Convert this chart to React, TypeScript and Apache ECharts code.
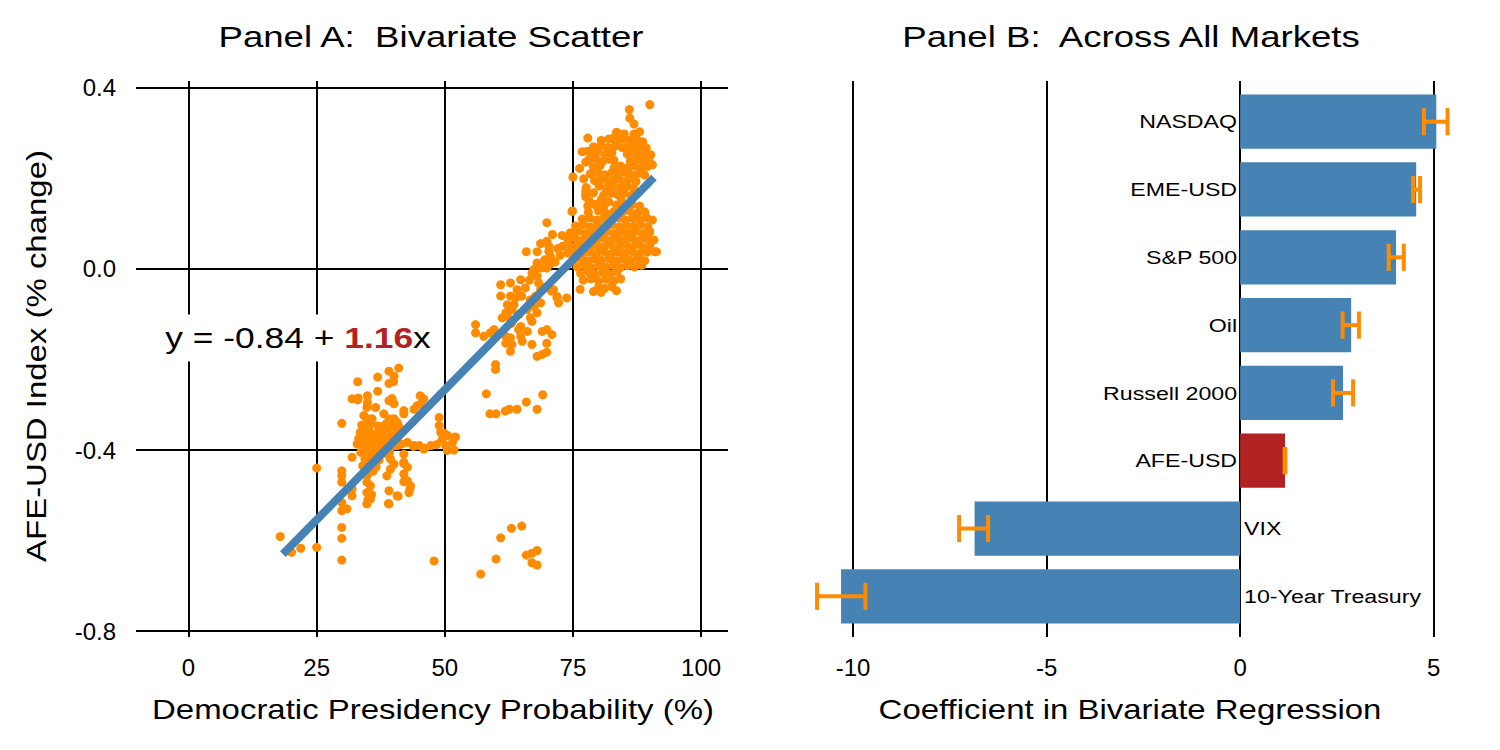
import React, { useEffect, useRef } from 'react';
import * as echarts from 'echarts';

const FONT = 'Liberation Sans';
const STRETCH = 1.22;

// Panel A axes
const X_TICKS = [0, 25, 50, 75, 100];
const Y_TICKS = [-0.8, -0.4, 0, 0.4];

// Fitted line endpoints
const FIT_X = [18.4, 90.8];
const FIT_Y = [-0.63, 0.202];

// Panel B
const COEF_TICKS = [-10, -5, 0, 5];
const MARKETS = ['NASDAQ', 'EME-USD', 'S&P 500', 'Oil', 'Russell 2000', 'AFE-USD', 'VIX', '10-Year Treasury'];
const COEF = [5.07, 4.55, 4.03, 2.87, 2.66, 1.16, -6.86, -10.31];
const CI_LO = [4.75, 4.47, 3.84, 2.65, 2.4, 1.15, -7.26, -10.93];
const CI_HI = [5.36, 4.65, 4.23, 3.07, 2.92, 1.17, -6.51, -9.68];
const HIGHLIGHT = 'AFE-USD';

// Scatter points (probability %, AFE-USD % change)
const CLUSTER_HIGH: number[][] = [
  [90.0, 0.363], [86.0, 0.352], [86.1, 0.333], [86.9, 0.32], [84.0, 0.298], [86.9, 0.298], [77.9, 0.289], [82.7, 0.288],
  [76.8, 0.259], [77.8, 0.26], [75.0, 0.203], [77.1, 0.199], [76.3, 0.222], [77.5, 0.236],
  [83.5, 0.302], [85.0, 0.298], [88.0, 0.303],
  [80.5, 0.284], [82.0, 0.287], [83.6, 0.283], [84.8, 0.288], [86.0, 0.284], [87.5, 0.286], [88.6, 0.281],
  [79.0, 0.27], [80.5, 0.273], [81.8, 0.268], [83.2, 0.271], [84.6, 0.268], [85.8, 0.272], [87.0, 0.269], [88.2, 0.272], [89.3, 0.267],
  [78.5, 0.255], [80.0, 0.258], [81.3, 0.253], [82.6, 0.257], [85.6, 0.254], [86.6, 0.258], [87.8, 0.253], [89.0, 0.256], [90.2, 0.252],
  [78.0, 0.24], [79.4, 0.243], [80.8, 0.238], [82.2, 0.242], [83.0, 0.24], [86.2, 0.239], [87.4, 0.243], [88.6, 0.238], [89.8, 0.242],
  [79.0, 0.225], [80.3, 0.228], [83.0, 0.223], [84.3, 0.227], [85.7, 0.224], [87.0, 0.228], [88.2, 0.222], [89.5, 0.226], [90.5, 0.23],
  [78.4, 0.21], [79.8, 0.213], [81.2, 0.208], [82.5, 0.212], [83.8, 0.209], [85.2, 0.213], [86.5, 0.208], [87.8, 0.211], [89.0, 0.207],
  [79.2, 0.195], [80.6, 0.198], [81.9, 0.193], [83.3, 0.197], [84.7, 0.194], [86.0, 0.198], [87.3, 0.193],
  [77.6, 0.18], [80.1, 0.183], [81.5, 0.178], [82.8, 0.182], [84.2, 0.179], [85.5, 0.183], [86.8, 0.178],
  [77.5, 0.165], [79.0, 0.168], [81.0, 0.163], [82.4, 0.167], [83.7, 0.164], [85.0, 0.168], [86.3, 0.162],
  [78.2, 0.15], [80.5, 0.153], [82.0, 0.148], [84.5, 0.152],
  [77.5, 0.171], [77.5, 0.159], [77.9, 0.139], [79.4, 0.143], [80.9, 0.131],
];

const CLUSTER_LOW: number[][] = [
  [79.5, 0.14], [81.0, 0.137], [83.5, 0.141], [85.0, 0.138], [86.5, 0.142], [88.0, 0.139],
  [78.0, 0.125], [80.0, 0.128], [81.5, 0.123], [83.0, 0.127], [84.5, 0.124], [86.0, 0.128], [87.5, 0.123], [89.0, 0.126],
  [76.8, 0.11], [78.2, 0.113], [79.6, 0.108], [81.0, 0.112], [82.4, 0.109], [83.8, 0.113], [85.2, 0.108], [86.6, 0.112], [88.0, 0.109], [89.4, 0.113], [90.5, 0.108],
  [75.5, 0.095], [77.0, 0.098], [78.4, 0.093], [79.8, 0.097], [81.2, 0.094], [82.6, 0.098], [84.0, 0.093], [85.4, 0.097], [86.8, 0.094], [88.2, 0.098], [89.6, 0.093],
  [74.5, 0.08], [76.0, 0.083], [77.4, 0.078], [78.8, 0.082], [80.2, 0.079], [81.6, 0.083], [83.0, 0.078], [84.4, 0.082], [85.8, 0.079], [87.2, 0.083], [88.6, 0.078], [90.0, 0.082],
  [74.0, 0.065], [75.4, 0.068], [76.8, 0.063], [78.2, 0.067], [79.6, 0.064], [81.0, 0.068], [82.4, 0.063], [83.8, 0.067], [85.2, 0.064], [86.6, 0.068], [88.0, 0.063], [89.4, 0.067], [90.8, 0.064],
  [74.6, 0.05], [76.0, 0.053], [77.4, 0.048], [78.8, 0.052], [80.2, 0.049], [81.6, 0.053], [83.0, 0.048], [84.4, 0.052], [85.8, 0.049], [87.2, 0.053], [88.6, 0.048], [90.0, 0.052],
  [74.0, 0.035], [75.4, 0.038], [76.8, 0.033], [78.2, 0.037], [79.6, 0.034], [81.0, 0.038], [82.4, 0.033], [83.8, 0.037], [85.2, 0.034], [86.6, 0.038], [88.0, 0.033], [89.5, 0.037], [91.3, 0.038],
  [75.0, 0.02], [76.4, 0.023], [77.8, 0.018], [79.2, 0.022], [80.6, 0.019], [82.0, 0.023], [83.4, 0.018], [84.8, 0.022], [86.2, 0.019], [87.6, 0.023], [89.0, 0.018],
  [75.8, 0.005], [77.2, 0.008], [78.6, 0.003], [80.0, 0.007], [81.4, 0.004], [82.8, 0.008], [84.2, 0.003], [85.6, 0.007], [87.0, 0.004], [88.4, 0.008],
  [76.5, -0.01], [78.0, -0.007], [79.4, -0.012], [80.8, -0.008], [82.2, -0.011], [83.6, -0.007],
  [77.0, -0.025], [78.5, -0.022], [80.0, -0.027], [81.5, -0.023], [83.0, -0.026], [84.3, -0.022],
  [76.4, -0.045], [80.0, -0.04], [81.2, -0.043], [82.6, -0.039],
  [79.0, -0.05], [80.5, -0.052], [83.5, -0.048],
  [88.0, 0.016], [91.0, 0.038], [74.9, 0.128],
];

const CLUSTER_MID: number[][] = [
  [74.8, 0.127], [69.9, 0.102], [71.0, 0.076], [72.9, 0.074], [68.7, 0.056], [69.9, 0.061], [70.3, 0.05], [70.3, 0.039],
  [70.6, 0.028], [65.9, 0.038], [68.0, 0.038], [68.0, 0.013], [68.7, 0.002], [69.9, 0.002], [67.4, -0.001], [67.0, -0.009],
  [68.0, -0.016], [68.3, -0.031], [68.7, -0.046], [67.7, -0.06], [68.7, -0.075], [60.9, -0.035], [62.8, -0.031], [64.8, -0.024],
  [65.7, -0.042], [64.1, -0.046], [60.9, -0.06], [62.8, -0.06], [63.8, -0.064], [63.5, -0.079], [62.2, -0.079], [63.1, -0.09],
  [66.7, -0.068], [67.4, -0.083], [68.0, -0.097], [71.2, -0.046], [71.9, -0.064], [73.8, -0.064], [72.2, -0.075], [61.2, -0.108],
  [62.2, -0.105], [61.9, -0.097], [64.8, -0.127], [64.4, -0.134], [66.1, -0.138], [66.7, -0.108], [67.0, -0.116], [56.0, -0.123],
  [56.0, -0.141], [57.6, -0.149], [58.9, -0.141], [59.6, -0.134], [61.9, -0.149], [62.8, -0.152], [61.9, -0.164], [63.1, -0.167],
  [62.8, -0.182], [64.8, -0.149], [65.1, -0.16], [69.0, -0.138], [69.9, -0.134], [70.9, -0.145], [69.9, -0.164], [67.0, -0.167],
  [68.0, -0.193], [69.0, -0.189], [69.9, -0.184], [59.9, -0.211], [59.9, -0.222],
  [69.5, 0.02], [70.5, 0.01], [71.5, 0.015], [72.5, 0.03], [73.0, 0.05], [72.0, 0.045], [69.3, -0.041], [70.8, -0.049],
  [71.9, -0.061], [66.5, -0.025], [65.0, -0.06], [66.0, -0.09], [64.5, -0.1], [63.0, -0.12],
  [58.1, -0.276], [58.8, -0.32], [60.0, -0.32], [61.8, -0.314], [62.6, -0.31], [64.1, -0.31], [65.9, -0.294], [68.0, -0.31], [69.1, -0.278],
];

const CLUSTER_LEFT: number[][] = [
  [41.0, -0.219], [39.1, -0.226], [40.1, -0.237], [40.0, -0.249], [36.9, -0.239], [33.0, -0.249], [39.1, -0.253], [36.9, -0.27],
  [31.9, -0.287], [33.0, -0.289], [34.9, -0.28], [34.9, -0.295], [34.8, -0.306], [39.1, -0.291], [39.7, -0.286], [40.1, -0.298],
  [45.9, -0.287], [45.3, -0.298], [44.6, -0.302], [36.5, -0.306], [42.0, -0.313], [42.0, -0.32], [29.9, -0.341], [34.2, -0.324],
  [34.8, -0.331], [35.8, -0.331], [34.2, -0.346], [35.1, -0.354], [38.1, -0.32], [39.1, -0.331], [40.1, -0.331], [40.1, -0.346],
  [38.7, -0.35], [40.7, -0.339], [41.4, -0.354], [48.9, -0.328], [48.9, -0.346], [49.2, -0.361], [49.5, -0.376], [50.2, -0.39],
  [50.5, -0.401], [51.8, -0.372], [51.5, -0.383], [50.5, -0.368], [33.5, -0.361], [34.5, -0.368], [33.5, -0.383], [34.8, -0.376],
  [36.1, -0.368], [37.4, -0.365], [36.5, -0.376], [37.1, -0.383], [39.1, -0.368], [40.1, -0.376], [39.4, -0.387], [40.7, -0.39],
  [42.7, -0.383], [44.0, -0.39], [45.0, -0.39], [45.9, -0.398], [47.3, -0.39], [32.9, -0.387], [31.9, -0.416], [34.8, -0.398],
  [35.5, -0.413], [36.1, -0.405], [34.8, -0.42], [35.5, -0.431], [38.7, -0.409], [39.4, -0.42], [40.1, -0.431], [39.4, -0.442],
  [38.7, -0.457], [42.0, -0.409], [42.0, -0.427], [42.7, -0.438], [42.0, -0.453], [42.7, -0.468], [43.3, -0.479], [43.0, -0.494],
  [29.9, -0.446], [29.9, -0.457], [29.9, -0.471], [25.0, -0.44], [31.9, -0.486], [31.9, -0.501], [34.8, -0.457], [34.8, -0.471],
  [35.5, -0.479], [34.8, -0.494], [35.5, -0.508], [34.8, -0.519], [39.1, -0.49], [39.1, -0.519], [40.7, -0.501], [29.9, -0.516],
  [29.9, -0.534], [30.9, -0.53], [29.9, -0.571], [29.9, -0.595], [29.9, -0.643],
  [33.8, -0.345], [35.5, -0.342], [37.0, -0.347], [38.5, -0.343], [41.0, -0.348], [34.0, -0.36], [35.2, -0.357], [36.8, -0.362],
  [38.0, -0.358], [39.8, -0.361], [41.2, -0.357], [33.2, -0.375], [35.0, -0.372], [36.2, -0.377], [37.8, -0.373], [39.0, -0.376],
  [40.6, -0.372], [34.2, -0.39], [35.8, -0.387], [37.0, -0.392], [38.4, -0.388], [40.0, -0.391], [41.6, -0.387], [33.6, -0.405],
  [35.0, -0.402], [36.4, -0.407], [37.6, -0.403], [39.2, -0.406], [34.4, -0.42], [36.0, -0.417], [37.2, -0.422], [34.0, -0.435],
  [35.2, -0.432], [36.6, -0.437], [34.8, -0.45], [36.0, -0.447],
  [43.9, -0.392], [46.1, -0.396], [48.4, -0.388], [49.9, -0.363], [52.1, -0.371], [51.8, -0.4], [43.2, -0.486], [40.9, -0.502],
  [39.0, -0.518], [35.0, -0.51], [35.7, -0.498], [42.0, -0.43], [42.0, -0.47], [33.1, -0.285], [44.0, -0.31], [45.2, -0.28],
];

const OUTLIERS: number[][] = [
  [17.9, -0.591], [20.1, -0.626], [21.9, -0.617], [25.0, -0.615], [47.9, -0.645], [57.0, -0.674], [60.0, -0.641], [60.9, -0.594],
  [63.0, -0.573], [65.0, -0.568], [65.9, -0.632], [67.0, -0.628], [68.0, -0.622], [67.0, -0.649], [68.0, -0.654],
];

const POINTS = [...CLUSTER_HIGH, ...CLUSTER_LOW, ...CLUSTER_MID, ...CLUSTER_LEFT, ...OUTLIERS];

const gridLine = { color: '#000', width: 2, type: 'solid' as const };

function stretchedText(text: string, x: number, y: number, size: number, extra: any = {}) {
  return {
    type: 'text',
    x,
    y,
    scaleX: STRETCH,
    z: 10,
    ...extra,
    style: {
      text,
      fontSize: size,
      fontFamily: FONT,
      fill: '#000',
      align: 'center',
      verticalAlign: 'middle',
    },
  };
}

export default function App() {
  const ref = useRef<HTMLDivElement>(null);

  useEffect(() => {
    document.body.style.margin = '0';
    const chart = echarts.init(ref.current!, null, { renderer: 'svg' });

    const axisLabelBase = { fontSize: 24, fontFamily: FONT, color: '#000' };

    const option: any = {
      animation: false,
      backgroundColor: '#fff',
      grid: [
        { left: 136, top: 81, width: 592, height: 556 },
        { left: 783, top: 81, width: 699, height: 556 },
      ],
      xAxis: [
        {
          gridIndex: 0, type: 'value', min: -10.25, max: 105.25,
          axisLine: { show: false }, axisTick: { show: false }, splitLine: { show: false },
          axisLabel: { ...axisLabelBase, customValues: X_TICKS, margin: 18 },
        },
        {
          gridIndex: 1, type: 'value', min: -11.81, max: 6.25,
          axisLine: { show: false }, axisTick: { show: false }, splitLine: { show: false },
          axisLabel: { ...axisLabelBase, customValues: COEF_TICKS, margin: 18 },
        },
      ],
      yAxis: [
        {
          gridIndex: 0, type: 'value', min: -0.813, max: 0.415,
          axisLine: { show: false }, axisTick: { show: false }, splitLine: { show: false },
          axisLabel: { ...axisLabelBase, customValues: Y_TICKS, margin: 20, formatter: (v: number) => v.toFixed(1) },
        },
        {
          gridIndex: 1, type: 'value', min: 0.4, max: 8.6, inverse: true, show: false,
        },
      ],
      series: [
        {
          type: 'scatter',
          xAxisIndex: 0, yAxisIndex: 0,
          data: POINTS,
          symbolSize: 9,
          itemStyle: { color: '#FF8C00', opacity: 1 },
          z: 2,
          silent: true,
          markLine: {
            z: 1,
            silent: true,
            symbol: ['none', 'none'],
            label: { show: false },
            lineStyle: gridLine,
            emphasis: { disabled: true },
            data: [
              ...X_TICKS.map((v) => ({ xAxis: v })),
              ...Y_TICKS.map((v) => ({ yAxis: v })),
            ],
          },
        },
        {
          type: 'line',
          xAxisIndex: 0, yAxisIndex: 0,
          data: FIT_X.map((x, i) => [x, FIT_Y[i]]),
          showSymbol: false,
          lineStyle: { color: '#4682B4', width: 8, cap: 'butt' },
          z: 3,
          silent: true,
        },
        {
          type: 'custom',
          xAxisIndex: 1, yAxisIndex: 1,
          data: MARKETS.map((m, i) => [COEF[i], i + 1]),
          encode: { x: 0, y: 1 },
          z: 2,
          silent: true,
          renderItem: (params: any, api: any) => {
            const v = api.value(0);
            const i = api.value(1);
            const name = MARKETS[params.dataIndex];
            const base = api.coord([0, i]);
            const end = api.coord([v, i]);
            const h = api.size([0, 0.8])[1];
            const pos = v >= 0;
            return {
              type: 'group',
              children: [
                {
                  type: 'rect',
                  shape: { x: Math.min(base[0], end[0]), y: base[1] - h / 2, width: Math.abs(end[0] - base[0]), height: h },
                  style: { fill: name === HIGHLIGHT ? '#B22222' : '#4682B4' },
                },
                {
                  type: 'text',
                  x: pos ? base[0] - 3 : base[0] + 4,
                  y: base[1],
                  scaleX: STRETCH,
                  style: {
                    text: name, fontSize: 19, fontFamily: FONT, fill: '#000',
                    align: pos ? 'right' : 'left', verticalAlign: 'middle',
                  },
                },
              ],
            };
          },
          markLine: {
            z: 1,
            silent: true,
            symbol: ['none', 'none'],
            label: { show: false },
            lineStyle: gridLine,
            emphasis: { disabled: true },
            data: COEF_TICKS.map((v) => ({ xAxis: v })),
          },
        },
        {
          type: 'custom',
          xAxisIndex: 1, yAxisIndex: 1,
          data: MARKETS.map((m, i) => [CI_LO[i], CI_HI[i], i + 1]),
          encode: { x: [0, 1], y: 2 },
          z: 4,
          silent: true,
          renderItem: (params: any, api: any) => {
            const i = api.value(2);
            const lo = api.coord([api.value(0), i]);
            const hi = api.coord([api.value(1), i]);
            const c = api.size([0, 0.2])[1];
            const st = { stroke: '#FF8C00', lineWidth: 4 };
            return {
              type: 'group',
              children: [
                { type: 'line', shape: { x1: lo[0], y1: lo[1], x2: hi[0], y2: hi[1] }, style: st },
                { type: 'line', shape: { x1: lo[0], y1: lo[1] - c, x2: lo[0], y2: lo[1] + c }, style: st },
                { type: 'line', shape: { x1: hi[0], y1: hi[1] - c, x2: hi[0], y2: hi[1] + c }, style: st },
              ],
            };
          },
        },
      ],
      graphic: [
        stretchedText('Panel A:  Bivariate Scatter', 431, 37, 30),
        stretchedText('Panel B:  Across All Markets', 1131, 37, 30),
        stretchedText('Democratic Presidency Probability (%)', 433, 710, 27),
        stretchedText('Coefficient in Bivariate Regression', 1130, 710, 27),
        stretchedText('AFE-USD Index (% change)', 37, 356, 27, { rotation: Math.PI / 2 }),
        {
          type: 'text',
          x: 298,
          y: 338,
          scaleX: STRETCH,
          z: 10,
          style: {
            text: '{a|y = -0.84 + }{b|1.16}{a|x}',
            align: 'center',
            verticalAlign: 'middle',
            backgroundColor: '#fff',
            padding: [9, 7],
            rich: {
              a: { fontSize: 29, fontFamily: FONT, fill: '#000' },
              b: { fontSize: 29, fontFamily: FONT, fill: '#B22222', fontWeight: 'bold' },
            },
          },
        },
      ],
    };

    chart.setOption(option);
    return () => chart.dispose();
  }, []);

  return <div ref={ref} style={{ width: 1500, height: 750 }} />;
}
